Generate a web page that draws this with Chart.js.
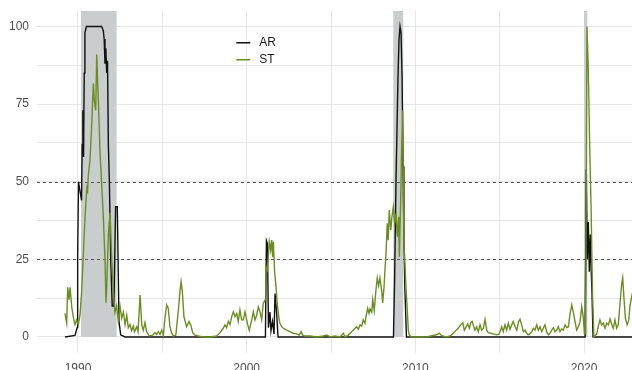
<!DOCTYPE html>
<html><head><meta charset="utf-8">
<script src="https://cdn.jsdelivr.net/npm/chart.js@4"></script>
<style>html,body{margin:0;padding:0;background:#fff;overflow:hidden}canvas{display:block}</style>
</head><body>
<canvas id="c" width="632" height="370"></canvas>
<script>
const seriesNames = ['AR', 'ST'];
const seriesColors = ['#111111', '#6b8e23'];

const arYears = [1989.23,1989.82,1989.95,1989.98,1990.03,1990.12,1990.21,1990.25,1990.29,1990.33,
1990.37,1990.41,1990.50,1990.80,1991.10,1991.40,1991.50,1991.55,1991.60,1991.65,
1991.70,1991.75,1991.80,1991.86,1991.94,1992.03,1992.13,1992.23,1992.33,1992.43,
1992.53,1992.79,2001.11,2001.17,2001.23,2001.29,2001.38,2001.44,2001.53,2001.62,
2001.68,2001.77,2001.86,2008.70,2008.77,2008.85,2008.97,2009.03,2009.09,2009.15,
2009.21,2009.27,2009.32,2009.38,2009.47,2020.06,2020.13,2020.19,2020.25,2020.31,
2020.37,2020.43,2020.47,2020.53,2022.84];
const arValues = [0,0.5,3,26,50,47,44,62,73,58,
85,98,100,100,100,100,98.7,96,88,93,
85,89,62,50,25,10,10,42,42,5,
0.7,0,0,31,30,3,8,2,5,1,
14,8,0,0,19,50,84,96,100,98,
84,55,31,15,0,0,54,25,37,21,
33,20,14,0,0];

const stYears = [1989.23,1989.33,1989.39,1989.47,1989.53,1989.63,1989.72,1989.82,1989.92,1990.02,
1990.12,1990.22,1990.31,1990.41,1990.52,1990.57,1990.61,1990.71,1990.81,1990.91,
1990.97,1991.05,1991.11,1991.17,1991.24,1991.30,1991.40,1991.50,1991.60,1991.66,
1991.70,1991.80,1991.90,1992.00,1992.09,1992.19,1992.29,1992.39,1992.49,1992.59,
1992.69,1992.79,1992.89,1992.98,1993.08,1993.18,1993.28,1993.35,1993.48,1993.56,
1993.68,1993.78,1993.87,1993.97,1994.07,1994.23,1994.43,1994.56,1994.66,1994.76,
1994.86,1994.96,1995.06,1995.16,1995.26,1995.35,1995.45,1995.55,1995.65,1995.80,
1995.95,1996.05,1996.11,1996.18,1996.28,1996.44,1996.58,1996.68,1996.80,1996.94,
1997.13,1997.43,1997.83,1998.22,1998.42,1998.61,1998.71,1998.81,1998.91,1999.01,
1999.11,1999.21,1999.31,1999.41,1999.50,1999.60,1999.70,1999.80,1999.90,2000.04,
2000.15,2000.30,2000.39,2000.49,2000.59,2000.69,2000.79,2000.89,2000.98,2001.09,
2001.14,2001.22,2001.28,2001.34,2001.42,2001.48,2001.54,2001.58,2001.66,2001.74,
2001.81,2001.90,2001.97,2002.08,2002.17,2002.37,2002.57,2002.76,2002.96,2003.12,
2003.22,2003.32,2003.46,2003.75,2004.15,2004.54,2004.74,2004.94,2005.23,2005.53,
2005.73,2005.83,2006.02,2006.22,2006.32,2006.42,2006.52,2006.62,2006.72,2006.82,
2006.91,2007.01,2007.07,2007.17,2007.25,2007.31,2007.41,2007.47,2007.56,2007.66,
2007.74,2007.82,2007.90,2008.00,2008.06,2008.14,2008.20,2008.26,2008.33,2008.39,
2008.45,2008.54,2008.61,2008.69,2008.77,2008.85,2008.93,2009.01,2009.05,2009.13,
2009.19,2009.25,2009.28,2009.32,2009.38,2009.44,2009.52,2009.58,2009.64,2009.78,
2010.27,2010.67,2010.97,2011.26,2011.42,2011.56,2011.86,2012.09,2012.25,2012.41,
2012.54,2012.69,2012.81,2012.90,2013.00,2013.10,2013.20,2013.28,2013.37,2013.43,
2013.53,2013.63,2013.73,2013.83,2013.93,2014.03,2014.13,2014.23,2014.32,2014.46,
2014.62,2014.82,2014.97,2015.12,2015.21,2015.31,2015.41,2015.51,2015.61,2015.71,
2015.80,2015.91,2016.01,2016.12,2016.20,2016.30,2016.40,2016.50,2016.60,2016.69,
2016.79,2016.90,2016.99,2017.09,2017.19,2017.29,2017.39,2017.49,2017.58,2017.68,
2017.78,2017.88,2017.98,2018.08,2018.18,2018.28,2018.38,2018.47,2018.57,2018.67,
2018.77,2018.87,2018.97,2019.07,2019.17,2019.27,2019.36,2019.46,2019.56,2019.66,
2019.76,2019.86,2019.95,2020.02,2020.09,2020.17,2020.25,2020.33,2020.42,2020.50,
2020.58,2020.75,2020.84,2020.94,2021.04,2021.14,2021.24,2021.34,2021.44,2021.54,
2021.63,2021.73,2021.83,2021.93,2022.03,2022.13,2022.23,2022.29,2022.37,2022.45,
2022.55,2022.65,2022.72,2022.82,2022.90];
const stValues = [7.6,4.5,16,12,16,9.7,6.5,4,5.5,4,
7,15,26,38,48,47,52,57,68,81.6,
76,73,91,81.6,71,60,49.5,39,25,11,
16,33,40,25,15,8,10,5,10,6,
8,4,7,3,4,2,3.5,1.7,3.3,1.7,
13.5,3.9,2.2,4.6,1.7,0.3,0.6,1.4,0.8,1.7,
0.8,2.2,0.5,6.5,10.3,9.3,3.3,1.3,0.3,0.6,
8.7,15,17.8,15,6.5,3.3,5,3.9,1.4,0.6,
0.3,0,0,0.3,1.4,2.8,3.9,3,5,4,
6.5,8.1,6.5,7.6,5,8.7,5.5,5.5,8.1,4.4,
2.2,5.5,8.1,5.5,7,9.7,8.1,5.5,10.8,11.9,
22.6,21.5,25.8,30.7,28,31.2,25.8,30.7,20.5,16.2,
10.8,6.5,4.4,3.3,2.8,2.2,1.7,1.2,1,0.6,
1.7,0.6,0.3,0.3,0,0.3,0.6,0,0.3,0,
1.2,0,0.6,1.7,2.2,2.8,3.3,2.5,3.9,3.5,
5.5,4.4,6.5,9.2,7.6,9,8,12,8.5,15,
19,16.5,19,15,11,16,22,27,36.6,31.2,
40.9,34.4,38.7,41.9,36.6,39.8,32.3,38.7,25.8,45,
62.3,73,53.7,30,23.7,16.2,8.7,2.2,0.6,0,
0,0,0.4,0.7,1.2,0.4,0,0.4,1.2,2.2,
2.8,3.9,4.6,2.2,3.2,4.2,2.8,4.6,5,3.9,
2.2,3.3,1.7,3.9,2.2,2.8,5.7,2.2,1.4,1.2,
1,0.7,1,3.3,1.7,3.9,2.2,4.4,2.4,3.9,
5,3.3,2.2,5,5.7,3.9,1.7,2.2,1.2,0.7,
1,1.7,2.8,2.2,3.9,2.2,3.3,1.7,2.8,3.9,
1.7,0.7,1.2,2.2,3,1.7,2.2,3.3,1.7,2.6,
2.2,3.9,3,3.3,7.6,10.3,8.1,5,2.2,3.3,
5,9.7,6.5,1,1,100,86,62,40,14,
0,1,3.4,5.5,3.9,4.5,2.8,4.5,3.9,5.8,
4.2,2.8,5.5,2.8,4,11,17,19,12,6,
3.9,5.5,10,13,15];

const recessions = [[1990.18, 1992.29], [2008.69, 2009.28], [2020.00, 2020.19]];
const thresholds = [25, 50];
const xTickLabels = [1990, 2000, 2010, 2020];
const xGridYears = [1990, 1995, 2000, 2005, 2010, 2015, 2020];
const yTickLabels = [0, 25, 50, 75, 100];
const yGridValues = [0, 12.5, 25, 37.5, 50, 62.5, 75, 87.5, 100];
const xRange = [1987.57, 2022.84];
const yRange = [-5, 105];

const FONT = '"Liberation Sans", Arial, Helvetica, sans-serif';

const overlay = {
  id: 'overlay',
  beforeDatasetsDraw(chart) {
    const {ctx, chartArea: a, scales: {x, y}} = chart;
    ctx.save();
    ctx.beginPath(); ctx.rect(a.left, a.top, a.right - a.left, a.bottom - a.top); ctx.clip();
    ctx.fillStyle = '#cacdcd';
    const y0 = y.getPixelForValue(0);
    recessions.forEach(([s, e]) => {
      const x0 = x.getPixelForValue(s), x1 = x.getPixelForValue(e);
      ctx.fillRect(x0, a.top, x1 - x0, y0 - a.top);
    });
    ctx.strokeStyle = '#555555'; ctx.lineWidth = 1; ctx.setLineDash([3, 3]);
    thresholds.forEach(v => {
      const py = Math.round(y.getPixelForValue(v)) + 0.5;
      ctx.beginPath(); ctx.moveTo(a.left, py); ctx.lineTo(a.right, py); ctx.stroke();
    });
    ctx.restore();
  },
  afterDatasetsDraw(chart) {
    const {ctx, chartArea: a} = chart;
    const lx = a.left + 0.335 * (a.right - a.left);
    const ly = a.top + 0.093 * (a.bottom - a.top);
    ctx.save();
    ctx.font = '12px ' + FONT;
    ctx.textBaseline = 'middle';
    seriesNames.forEach((n, i) => {
      const yy = ly + i * 17;
      ctx.strokeStyle = seriesColors[i]; ctx.lineWidth = 1.5;
      ctx.beginPath(); ctx.moveTo(lx, yy); ctx.lineTo(lx + 14, yy); ctx.stroke();
      ctx.fillStyle = '#1a1a1a';
      ctx.fillText(n, lx + 23, yy);
    });
    ctx.restore();
  }
};

new Chart(document.getElementById('c'), {
  type: 'line',
  data: {
    datasets: [
      {label: seriesNames[0], data: arYears.map((v, i) => ({x: v, y: arValues[i]})),
       borderColor: seriesColors[0], borderWidth: 1.4, pointRadius: 0, tension: 0, order: 1},
      {label: seriesNames[1], data: stYears.map((v, i) => ({x: v, y: stValues[i]})),
       borderColor: seriesColors[1], borderWidth: 1.4, pointRadius: 0, tension: 0, order: 0}
    ]
  },
  options: {
    responsive: false, animation: false, devicePixelRatio: 1,
    layout: {padding: {top: 11, left: 0, right: 0, bottom: 0}},
    plugins: {legend: {display: false}, tooltip: {enabled: false}},
    scales: {
      x: {
        type: 'linear', min: xRange[0], max: xRange[1],
        afterBuildTicks: s => { s.ticks = xGridYears.map(v => ({value: v})); },
        afterFit: s => { s.height = 17.5; s.paddingLeft = 0; s.paddingRight = 0; },
        grid: {color: '#e6e6e6', lineWidth: 1, drawTicks: false},
        border: {display: false},
        ticks: {autoSkip: false, maxRotation: 0, padding: 9, color: '#4d4d4d',
          font: {family: FONT, size: 12},
          callback: v => xTickLabels.includes(v) ? String(v) : ''}
      },
      y: {
        min: yRange[0], max: yRange[1],
        afterBuildTicks: s => { s.ticks = yGridValues.map(v => ({value: v})); },
        afterFit: s => { s.width = 37; s.paddingTop = 0; s.paddingBottom = 0; },
        grid: {color: '#e6e6e6', lineWidth: 1, drawTicks: false},
        border: {display: false},
        ticks: {padding: 8, color: '#4d4d4d', font: {family: FONT, size: 12},
          callback: v => yTickLabels.includes(v) ? String(v) : ''}
      }
    }
  },
  plugins: [overlay]
});
</script>
</body></html>
